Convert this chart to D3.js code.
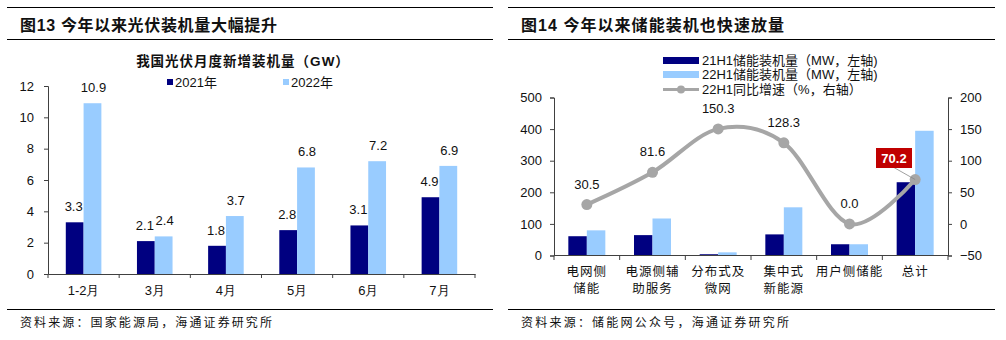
<!DOCTYPE html>
<html><head><meta charset="utf-8">
<script src="https://cdn.jsdelivr.net/npm/d3@7"></script>
<style>
body{margin:0;background:#fff;}
svg{display:block;font-family:"Liberation Sans","Noto Sans CJK SC",sans-serif;}
</style></head><body>
<svg id="c" width="1006" height="340"></svg>
<script>
// ---- Data: left chart ----
const pvMonths = ["1-2月","3月","4月","5月","6月","7月"];
const pv2021 = [3.3,2.1,1.8,2.8,3.1,4.9];
const pv2022 = [10.9,2.4,3.7,6.8,7.2,6.9];
const pvTicks = [0,2,4,6,8,10,12];
// ---- Data: right chart ----
const esCats = [["电网侧","储能"],["电源侧辅","助服务"],["分布式及","微网"],["集中式","新能源"],["用户侧储能"],["总计"]];
const es21 = [61.0,64.5,4.0,66.8,35.6,231.9];
const es22 = [79.6,117.1,10.0,152.5,35.6,394.7];
const esGrowth = [30.5,81.6,150.3,128.3,0.0,70.2];
const esLeftTicks = [0,100,200,300,400,500];
const esRightTicks = [-50,0,50,100,150,200];

const DARK="#000080", LIGHT="#99CCFF", GRAY="#A6A6A6", AX="#404040";
const svg = d3.select("#c");
const CJK = '"Noto Sans CJK SC",sans-serif';

function frame(x0,x1,title,titleLen,source,sourceLen){
  svg.append("line").attr("x1",x0).attr("x2",x1).attr("y1",7.5).attr("y2",7.5).attr("stroke","#000").attr("stroke-width",1.2);
  svg.append("line").attr("x1",x0).attr("x2",x1).attr("y1",39.5).attr("y2",39.5).attr("stroke","#000").attr("stroke-width",1.2);
  svg.append("line").attr("x1",x0).attr("x2",x1).attr("y1",309.5).attr("y2",309.5).attr("stroke","#000").attr("stroke-width",1.2);
  svg.append("text").attr("x",x0+13).attr("y",30.5).attr("font-size",16).attr("font-weight","bold").attr("fill","#111")
     .attr("textLength",titleLen).attr("lengthAdjust","spacing")
     .style("font-family",'"Liberation Sans","Noto Sans CJK SC",sans-serif').text(title);
  svg.append("text").attr("x",x0+13).attr("y",327).attr("font-size",12).attr("fill","#111")
     .attr("textLength",sourceLen).attr("lengthAdjust","spacing")
     .style("font-family",CJK).text(source);
}

// ================= Left chart =================
frame(7,493,"图13 今年以来光伏装机量大幅提升",257,"资料来源：国家能源局，海通证券研究所",252);
svg.append("text").attr("x",243).attr("y",66).attr("text-anchor","middle").attr("font-size",13.5).attr("font-weight","bold")
  .attr("letter-spacing",1).attr("fill","#111").text("我国光伏月度新增装机量（GW）");
{
  const x = d3.scaleBand().domain(pvMonths).range([48,475]).paddingInner(0).paddingOuter(0);
  const y = d3.scaleLinear().domain([0,12]).range([274,86]);
  const bw = x.bandwidth()*0.25;
  const g = svg.append("g");
  pvMonths.forEach((m,i)=>{
    const cx = x(m)+x.bandwidth()/2;
    g.append("rect").attr("x",cx-bw).attr("y",y(pv2021[i])).attr("width",bw).attr("height",y(0)-y(pv2021[i])).attr("fill",DARK);
    g.append("rect").attr("x",cx).attr("y",y(pv2022[i])).attr("width",bw).attr("height",y(0)-y(pv2022[i])).attr("fill",LIGHT);
    g.append("text").attr("x",cx-bw/2-1).attr("y",y(pv2021[i])-11).attr("text-anchor","middle").attr("font-size",13).attr("fill","#111").text(pv2021[i].toFixed(1));
    g.append("text").attr("x",cx+bw/2+1).attr("y",y(pv2022[i])-11).attr("text-anchor","middle").attr("font-size",13).attr("fill","#111").text(pv2022[i].toFixed(1));
  });
  const ya = svg.append("g").attr("transform","translate(48,0)").call(d3.axisLeft(y).tickValues(pvTicks).tickSize(4).tickPadding(10));
  ya.select(".domain").attr("stroke",AX); ya.selectAll(".tick line").attr("stroke",AX);
  ya.selectAll("text").attr("font-size",13).attr("fill","#111").style("font-family","Liberation Sans");
  const xa = svg.append("g").attr("transform","translate(0,274)").call(d3.axisBottom(x).tickSize(0).tickPadding(12));
  xa.select(".domain").attr("stroke",AX);
  xa.selectAll("text").attr("font-size",13).attr("fill","#111");
  const bounds = pvMonths.map(m=>x(m)).concat([x.range()[1]]);
  svg.append("g").selectAll("line").data(bounds).join("line").attr("x1",d=>d).attr("x2",d=>d).attr("y1",274).attr("y2",278).attr("stroke",AX);
  svg.append("rect").attr("x",167).attr("y",79).attr("width",6).attr("height",6).attr("fill",DARK);
  svg.append("text").attr("x",175).attr("y",87).attr("font-size",13).attr("fill","#111").text("2021年");
  svg.append("rect").attr("x",283).attr("y",79).attr("width",6).attr("height",6).attr("fill",LIGHT);
  svg.append("text").attr("x",291).attr("y",87).attr("font-size",13).attr("fill","#111").text("2022年");
}

// ================= Right chart =================
frame(508,995,"图14 今年以来储能装机也快速放量",263,"资料来源：储能网公众号，海通证券研究所",268);
{
  const keys = esCats.map(d=>d.join(""));
  const x = d3.scaleBand().domain(keys).range([554,948]);
  const yL = d3.scaleLinear().domain([0,500]).range([255.5,97.5]);
  const yR = d3.scaleLinear().domain([-50,200]).range([255.5,97.5]);
  const bw = 18.5;
  const g = svg.append("g");
  keys.forEach((k,i)=>{
    const cx = x(k)+x.bandwidth()/2;
    g.append("rect").attr("x",cx-bw).attr("y",yL(es21[i])).attr("width",bw).attr("height",yL(0)-yL(es21[i])).attr("fill",DARK);
    g.append("rect").attr("x",cx).attr("y",yL(es22[i])).attr("width",bw).attr("height",yL(0)-yL(es22[i])).attr("fill",LIGHT);
  });
  const ya = svg.append("g").attr("transform","translate(554,0)").call(d3.axisLeft(yL).tickValues(esLeftTicks).tickSize(4).tickPadding(8));
  ya.select(".domain").attr("stroke",AX); ya.selectAll(".tick line").attr("stroke",AX);
  ya.selectAll("text").attr("font-size",13).attr("fill","#111");
  const yr = svg.append("g").attr("transform","translate(948,0)").call(d3.axisRight(yR).tickValues(esRightTicks).tickSize(4).tickPadding(8));
  yr.select(".domain").attr("stroke",AX); yr.selectAll(".tick line").attr("stroke",AX);
  yr.selectAll("text").attr("font-size",13).attr("fill","#111");
  svg.append("line").attr("x1",554).attr("x2",948).attr("y1",255.5).attr("y2",255.5).attr("stroke",AX);
  const bounds = keys.map(k=>x(k)).concat([x.range()[1]]);
  svg.append("g").selectAll("line").data(bounds).join("line").attr("x1",d=>d).attr("x2",d=>d).attr("y1",255.5).attr("y2",260).attr("stroke",AX);
  keys.forEach((k,i)=>{
    const cx = x(k)+x.bandwidth()/2;
    esCats[i].forEach((t,j)=>{
      svg.append("text").attr("x",cx).attr("y",276+j*17).attr("text-anchor","middle").attr("font-size",12.5)
        .attr("letter-spacing",1).attr("fill","#111").style("font-family",CJK).text(t);
    });
  });
  const pts = keys.map((k,i)=>[x(k)+x.bandwidth()/2, yR(esGrowth[i])]);
  svg.append("path").attr("d",d3.line().curve(d3.curveCardinal.tension(0))(pts)).attr("fill","none").attr("stroke",GRAY).attr("stroke-width",4);
  svg.append("g").selectAll("circle").data(pts).join("circle").attr("cx",d=>d[0]).attr("cy",d=>d[1]).attr("r",5.5).attr("fill",GRAY);
  esGrowth.forEach((v,i)=>{
    if(i===5) return;
    svg.append("text").attr("x",pts[i][0]).attr("y",pts[i][1]-16).attr("text-anchor","middle").attr("font-size",13).attr("fill","#111").text(v.toFixed(1));
  });
  const lx = 876, ly = 148;
  svg.append("line").attr("x1",893).attr("y1",167).attr("x2",pts[5][0]).attr("y2",pts[5][1]).attr("stroke","#888").attr("stroke-width",0.8);
  svg.append("rect").attr("x",lx).attr("y",ly).attr("width",36).attr("height",20).attr("fill","#C00000");
  svg.append("text").attr("x",lx+18).attr("y",ly+15).attr("text-anchor","middle").attr("font-size",13).attr("font-weight","bold").attr("fill","#fff").text(esGrowth[5].toFixed(1));
  const lg = svg.append("g").attr("font-size",13).attr("fill","#111");
  lg.append("rect").attr("x",663).attr("y",57).attr("width",36).attr("height",7).attr("fill",DARK);
  lg.append("text").attr("x",702).attr("y",65).text("21H1储能装机量（MW，左轴)");
  lg.append("rect").attr("x",663).attr("y",71).attr("width",36).attr("height",7).attr("fill",LIGHT);
  lg.append("text").attr("x",702).attr("y",79).text("22H1储能装机量（MW，左轴)");
  lg.append("line").attr("x1",663).attr("x2",699).attr("y1",89.5).attr("y2",89.5).attr("stroke",GRAY).attr("stroke-width",3);
  lg.append("circle").attr("cx",681).attr("cy",89.5).attr("r",4).attr("fill",GRAY);
  lg.append("text").attr("x",702).attr("y",94).text("22H1同比增速（%，右轴）");
}
</script></body></html>
